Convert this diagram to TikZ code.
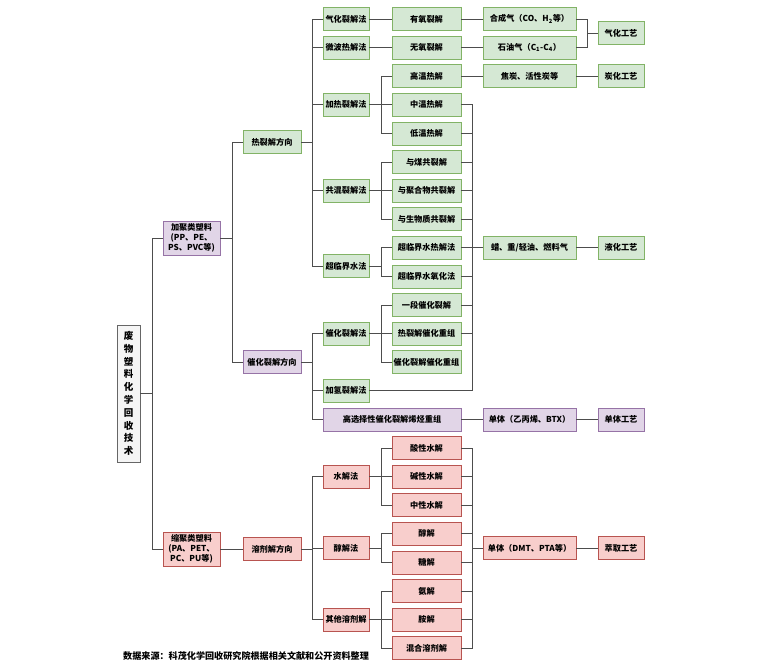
\documentclass[tikz,border=0pt]{standalone}
\usepackage{fontspec}
\setmainfont{Noto Sans CJK SC}
\usepackage{xcolor}
\usetikzlibrary{positioning}

\definecolor{greenfill}{HTML}{D5E8D4}
\definecolor{greenline}{HTML}{82B366}
\definecolor{purplefill}{HTML}{E1D5E7}
\definecolor{purpleline}{HTML}{9673A6}
\definecolor{redfill}{HTML}{F8CECC}
\definecolor{redline}{HTML}{B85450}
\definecolor{grayfill}{HTML}{F5F5F5}
\definecolor{grayline}{HTML}{666666}
\definecolor{linkgray}{HTML}{4D4D4D}

\begin{document}
\begin{tikzpicture}[x=1pt, y=-1pt,
  box/.style={rectangle, draw, line width=0.8pt, minimum height=23pt, inner sep=1pt, align=center, font=\fontsize{8.2}{10}\selectfont\bfseries},
  greenbox/.style={box, draw=greenline, fill=greenfill},
  purplebox/.style={box, draw=purpleline, fill=purplefill},
  redbox/.style={box, draw=redline, fill=redfill},
  link/.style={draw=linkgray, line width=0.8pt}]

\useasboundingbox (0,0) rectangle (770,666);
\def\dy{28.6}

% bus lines (x only)
\coordinate (busA) at (152,0);
\coordinate (busB) at (232,0);
\coordinate (busC) at (312,0);
\coordinate (busD) at (381,0);
\coordinate (busE) at (472,0);
\coordinate (busF) at (587,0);

% root and plastic types
\node[box, draw=grayline, fill=grayfill, minimum width=23pt, minimum height=137pt, font=\fontsize{9.5}{12.8}\selectfont\bfseries] (root) at (128.5,393.5)
  {废\\物\\塑\\料\\化\\学\\回\\收\\技\\术};
\node[purplebox, minimum width=57pt, minimum height=34pt] (addition) at (191.5,238) {加聚类塑料\\(PP、PE、\\PS、PVC等)};
\node[redbox, minimum width=57pt, minimum height=34pt] (condensation) at (191.5,549) {缩聚类塑料\\(PA、PET、\\PC、PU等)};

% directions
\node[greenbox, minimum width=58pt] (thermal) at (272,142) {热裂解方向};
\node[purplebox, minimum width=58pt] (catalytic) at (272,362) {催化裂解方向};
\node[redbox, minimum width=58pt] (solvolysis) at (272,549) {溶剂解方向};

% methods
\node[greenbox, minimum width=46pt] (gasify) at (346,19) {气化裂解法};
\node[greenbox, minimum width=46pt] (microwave) at (346,19+\dy) {微波热解法};
\node[greenbox, minimum width=46pt] (heating) at (346,19+3*\dy) {加热裂解法};
\node[greenbox, minimum width=46pt] (coblend) at (346,19+6*\dy) {共混裂解法};
\node[greenbox, minimum width=46pt] (supercrit) at (346,266) {超临界水法};
\node[greenbox, minimum width=46pt] (catcrack) at (346,19+11*\dy) {催化裂解法};
\node[greenbox, minimum width=46pt] (hydro) at (346,19+13*\dy) {加氢裂解法};
\node[purplebox, minimum width=138pt] (selective) at (392,19+14*\dy) {高选择性催化裂解烯烃重组};
\node[redbox, minimum width=46pt] (hydrolysis) at (346,19+16*\dy) {水解法};
\node[redbox, minimum width=46pt] (alcoholysis) at (346,19+18.5*\dy) {醇解法};
\node[redbox, minimum width=46pt] (othersolv) at (346,19+21*\dy) {其他溶剂解};

% sub-methods
\node[greenbox, minimum width=69pt] (oxic) at (426.5,19) {有氧裂解};
\node[greenbox, minimum width=69pt] (anoxic) at (426.5,19+\dy) {无氧裂解};
\node[greenbox, minimum width=69pt] (hightemp) at (426.5,19+2*\dy) {高温热解};
\node[greenbox, minimum width=69pt] (midtemp) at (426.5,19+3*\dy) {中温热解};
\node[greenbox, minimum width=69pt] (lowtemp) at (426.5,19+4*\dy) {低温热解};
\node[greenbox, minimum width=69pt] (withcoal) at (426.5,19+5*\dy) {与煤共裂解};
\node[greenbox, minimum width=69pt] (withpoly) at (426.5,19+6*\dy) {与聚合物共裂解};
\node[greenbox, minimum width=69pt] (withbio) at (426.5,19+7*\dy) {与生物质共裂解};
\node[greenbox, minimum width=69pt] (scwpyro) at (426.5,19+8*\dy) {超临界水热解法};
\node[greenbox, minimum width=69pt] (scwoxid) at (426.5,19+9*\dy) {超临界水氧化法};
\node[greenbox, minimum width=69pt] (onestage) at (426.5,19+10*\dy) {一段催化裂解};
\node[greenbox, minimum width=69pt] (pyrocat) at (426.5,19+11*\dy) {热裂解催化重组};
\node[greenbox, minimum width=69pt] (catcat) at (426.5,19+12*\dy) {催化裂解催化重组};
\node[redbox, minimum width=69pt] (acidhyd) at (426.5,19+15*\dy) {酸性水解};
\node[redbox, minimum width=69pt] (basehyd) at (426.5,19+16*\dy) {碱性水解};
\node[redbox, minimum width=69pt] (neuthyd) at (426.5,19+17*\dy) {中性水解};
\node[redbox, minimum width=69pt] (alcohol) at (426.5,19+18*\dy) {醇解};
\node[redbox, minimum width=69pt] (glycol) at (426.5,19+19*\dy) {糖解};
\node[redbox, minimum width=69pt] (ammon) at (426.5,19+20*\dy) {氨解};
\node[redbox, minimum width=69pt] (amin) at (426.5,19+21*\dy) {胺解};
\node[redbox, minimum width=69pt] (mixsolv) at (426.5,19+22*\dy) {混合溶剂解};

% products
\node[greenbox, minimum width=93pt] (syngas) at (529.5,19) {合成气（CO、H\textsubscript{2}等）};
\node[greenbox, minimum width=93pt] (petgas) at (529.5,19+\dy) {石油气（C\textsubscript{1}-C\textsubscript{4}）};
\node[greenbox, minimum width=93pt] (char) at (529.5,19+2*\dy) {焦炭、活性炭等};
\node[greenbox, minimum width=93pt] (wax) at (529.5,19+8*\dy) {蜡、重/轻油、燃料气};
\node[purplebox, minimum width=93pt] (olefin) at (529.5,19+14*\dy) {单体（乙丙烯、BTX）};
\node[redbox, minimum width=93pt] (dmt) at (529.5,19+18.5*\dy) {单体（DMT、PTA等）};

% processes
\node[greenbox, minimum width=46pt] (gasproc) at (621,19+0.5*\dy) {气化工艺};
\node[greenbox, minimum width=46pt] (charproc) at (621,19+2*\dy) {炭化工艺};
\node[greenbox, minimum width=46pt] (liqproc) at (621,19+8*\dy) {液化工艺};
\node[purplebox, minimum width=46pt] (monoproc) at (621,19+14*\dy) {单体工艺};
\node[redbox, minimum width=46pt] (extproc) at (621,19+18.5*\dy) {萃取工艺};

% caption
\node[anchor=west, inner sep=0pt, font=\fontsize{9.1}{11}\selectfont\bfseries] (source) at (123,656) {数据来源：科茂化学回收研究院根据相关文献和公开资料整理};

% tree links
\foreach \c in {addition,condensation}
  \draw[link] (root.east) -- (root.east -| busA) |- (\c.west);
\foreach \c in {thermal,catalytic}
  \draw[link] (addition.east) -- (addition.east -| busB) |- (\c.west);
\draw[link] (condensation) -- (solvolysis);
\foreach \c in {gasify,microwave,heating,coblend,supercrit}
  \draw[link] (thermal.east) -- (thermal.east -| busC) |- (\c.west);
\foreach \c in {catcrack,hydro,selective}
  \draw[link] (catalytic.east) -- (catalytic.east -| busC) |- (\c.west);
\foreach \c in {hydrolysis,alcoholysis,othersolv}
  \draw[link] (solvolysis.east) -- (solvolysis.east -| busC) |- (\c.west);
\draw[link] (gasify) -- (oxic);
\draw[link] (microwave) -- (anoxic);
\foreach \c in {hightemp,midtemp,lowtemp}
  \draw[link] (heating.east) -- (heating.east -| busD) |- (\c.west);
\foreach \c in {withcoal,withpoly,withbio}
  \draw[link] (coblend.east) -- (coblend.east -| busD) |- (\c.west);
\foreach \c in {scwpyro,scwoxid}
  \draw[link] (supercrit.east) -- (supercrit.east -| busD) |- (\c.west);
\foreach \c in {onestage,pyrocat,catcat}
  \draw[link] (catcrack.east) -- (catcrack.east -| busD) |- (\c.west);
\foreach \c in {acidhyd,basehyd,neuthyd}
  \draw[link] (hydrolysis.east) -- (hydrolysis.east -| busD) |- (\c.west);
\foreach \c in {alcohol,glycol}
  \draw[link] (alcoholysis.east) -- (alcoholysis.east -| busD) |- (\c.west);
\foreach \c in {ammon,amin,mixsolv}
  \draw[link] (othersolv.east) -- (othersolv.east -| busD) |- (\c.west);

% links to products
\draw[link] (oxic) -- (syngas);
\draw[link] (anoxic) -- (petgas);
\draw[link] (hightemp) -- (char);
\foreach \c in {midtemp,lowtemp,withcoal,withpoly,withbio,scwpyro,scwoxid,onestage,pyrocat,hydro}
  \draw[link] (\c.east) -- (\c.east -| busE) |- (wax.west);
\draw[link] (selective) -- (olefin);
\foreach \c in {acidhyd,basehyd,neuthyd,alcohol,glycol,ammon,amin,mixsolv}
  \draw[link] (\c.east) -- (\c.east -| busE) |- (dmt.west);

% links to processes
\foreach \c in {syngas,petgas}
  \draw[link] (\c.east) -- (\c.east -| busF) |- (gasproc.west);
\draw[link] (char) -- (charproc);
\draw[link] (wax) -- (liqproc);
\draw[link] (olefin) -- (monoproc);
\draw[link] (dmt) -- (extproc);

\end{tikzpicture}
\end{document}
